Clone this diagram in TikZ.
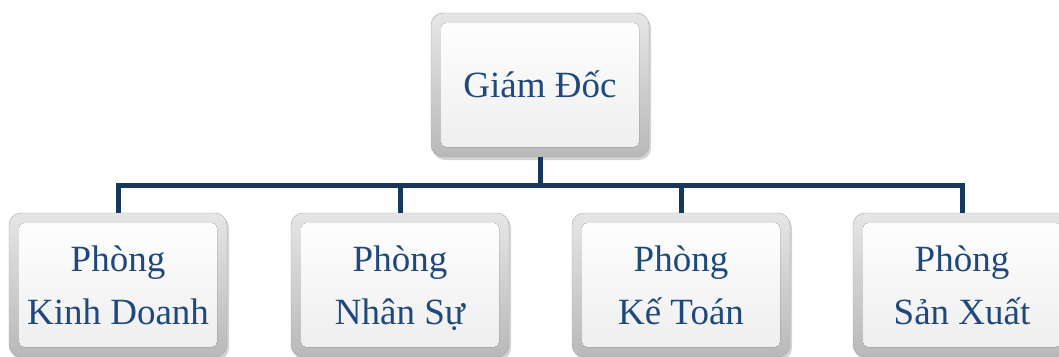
\documentclass[tikz,border=0pt]{standalone}
\usepackage{fontspec}
\setmainfont{Liberation Serif}
\usepackage{xcolor}
\usetikzlibrary{shadows}
\definecolor{boxblue}{RGB}{31,73,125}
\definecolor{linkblue}{RGB}{23,55,94}
\tikzset{
    gloss-box/.style = {draw=gray!70, rounded corners=12pt, minimum width=218pt, minimum height=144pt,
        top color=gray!20, bottom color=gray!55,
        drop shadow={shadow xshift=2pt, shadow yshift=-3pt, opacity=0.35},
        font=\fontsize{37}{53}\selectfont, text=boxblue, align=center,
        path picture={\fill[top color=white, bottom color=gray!14, rounded corners=5pt]
            ([shift={(10pt,-10pt)}]path picture bounding box.north west) rectangle
            ([shift={(-10pt,10pt)}]path picture bounding box.south east);}},
    dept-box/.style = {gloss-box, text height=78pt, text depth=0pt},
    org-link/.style = {draw=linkblue, line width=5pt},
}
\begin{document}
\begin{tikzpicture}[x=1pt, y=-1pt]
\useasboundingbox (0,0) rectangle (1059,356);
\node [gloss-box, text height=26pt, text depth=2pt] (director) at (540,85) {Giám Đốc};
\node [dept-box] (sales) at (118,285) {Phòng\\Kinh Doanh};
\node [dept-box] (hr) at (400,285) {Phòng\\Nhân Sự};
\node [dept-box] (account) at (681,285) {Phòng\\Kế Toán};
\node [dept-box] (product) at (962,285) {Phòng\\Sản Xuất};
\coordinate (bus) at (540,185);
\draw [org-link] (director.south) -- (bus);
\draw [org-link] (sales.north) |- (bus) -| (product.north);
\draw [org-link] (hr.north) -- (hr.north |- bus);
\draw [org-link] (account.north) -- (account.north |- bus);
\end{tikzpicture}
\end{document}
